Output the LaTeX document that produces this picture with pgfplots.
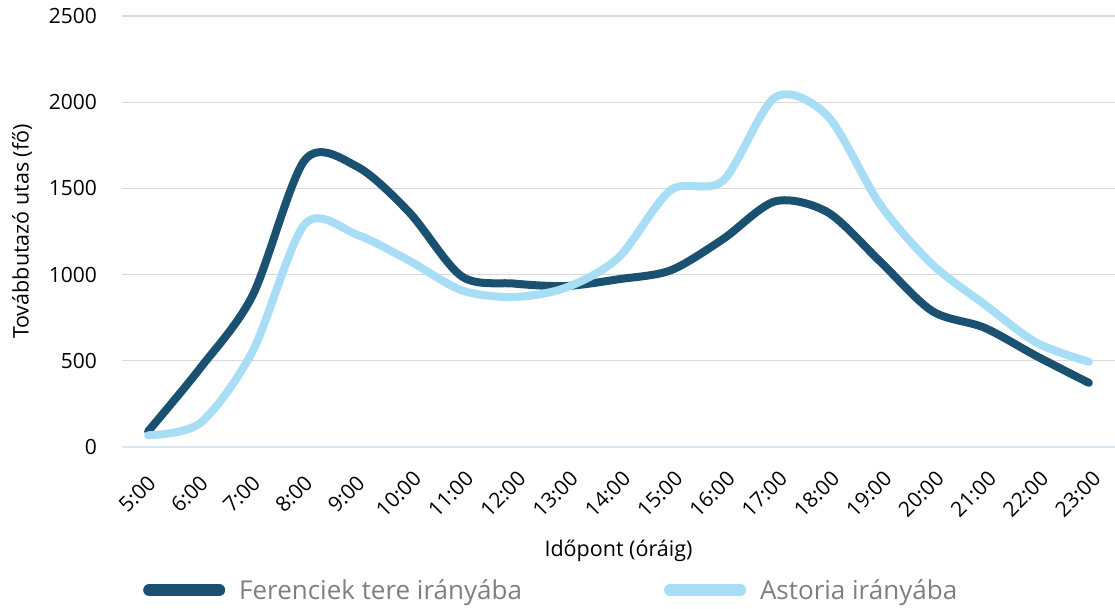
\documentclass[border=0pt]{standalone}
\usepackage{fontspec}
\setmainfont{Open Sans}
\usepackage{pgfplots}
\pgfplotsset{compat=1.18}
\definecolor{darkblue}{HTML}{1B5170}
\definecolor{lightblue}{HTML}{A7DDF5}
\definecolor{gridgray}{HTML}{D9D9D9}
\definecolor{axisblue}{HTML}{D6E8F4}
\definecolor{legendgray}{HTML}{7F7F7F}
\begin{document}
\begin{tikzpicture}
\path[use as bounding box] (-122pt,-161pt) rectangle (993pt,447pt);
\begin{axis}[
  at={(0,0)}, anchor=south west,
  scale only axis, width=993pt, height=431pt,
  xmin=-0.5, xmax=18.5, ymin=0, ymax=2500,
  clip=false,
  axis x line*=bottom, axis y line*=left,
  x axis line style={draw=axisblue, line width=1.5pt, -},
  y axis line style={draw=none},
  major tick length=0pt,
  ytick={0,500,1000,1500,2000,2500},
  xtick={0,...,18},
  xticklabels={5:00,6:00,7:00,8:00,9:00,10:00,11:00,12:00,13:00,14:00,15:00,16:00,17:00,18:00,19:00,20:00,21:00,22:00,23:00},
  ymajorgrids, major grid style={draw=gridgray, line width=1.3pt},
  /pgf/number format/assume math mode=true,
  /pgf/number format/1000 sep={},
  tick label style={font=\fontsize{21}{25}\selectfont, text=black},
  yticklabel style={anchor=east, inner sep=0pt, xshift=-25pt},
  xticklabel style={xshift=-11pt, yshift=-47pt, rotate=45, anchor=center, inner sep=0pt},
  xlabel={Időpont (óráig)},
  ylabel={Továbbutazó utas (fő)},
  label style={font=\fontsize{21.5}{25}\selectfont},
  xlabel style={at={(axis description cs:0.5,0)}, anchor=center, yshift=-104pt},
  ylabel style={at={([xshift=-100pt]axis description cs:0,0.5)}, anchor=center, rotate=0},
  legend columns=2,
  legend style={at={([xshift=21pt,yshift=-143pt]axis description cs:0,0)}, anchor=west,
    draw=none, fill=none, inner sep=0pt,
    font=\fontsize{26}{30}\selectfont, text=legendgray,
    /tikz/every even column/.append style={column sep=140pt}},
  legend cell align=left,
]
\addplot[darkblue, line width=8pt, smooth, tension=0.5, line cap=round,
  legend image code/.code={\draw[darkblue, line width=12pt, line cap=round] (6pt,0pt) -- (76pt,0pt); \path (90pt,0pt);}]
  coordinates {(0,91) (1,459) (2,880) (3,1665) (4,1626) (5,1360) (6,990) (7,948) (8,934) (9,973) (10,1025) (11,1206) (12,1425) (13,1362) (14,1078) (15,789) (16,692) (17,527) (18,372)};
\addlegendentry{Ferenciek tere irányába}
\addplot[lightblue, line width=8pt, smooth, tension=0.5, line cap=round,
  legend image code/.code={\draw[lightblue, line width=12pt, line cap=round] (6pt,0pt) -- (76pt,0pt); \path (90pt,0pt);}]
  coordinates {(0,68) (1,140) (2,556) (3,1293) (4,1231) (5,1080) (6,909) (7,870) (8,925) (9,1099) (10,1490) (11,1545) (12,2029) (13,1920) (14,1409) (15,1060) (16,828) (17,605) (18,494)};
\addlegendentry{Astoria irányába}
\end{axis}
\end{tikzpicture}
\end{document}
